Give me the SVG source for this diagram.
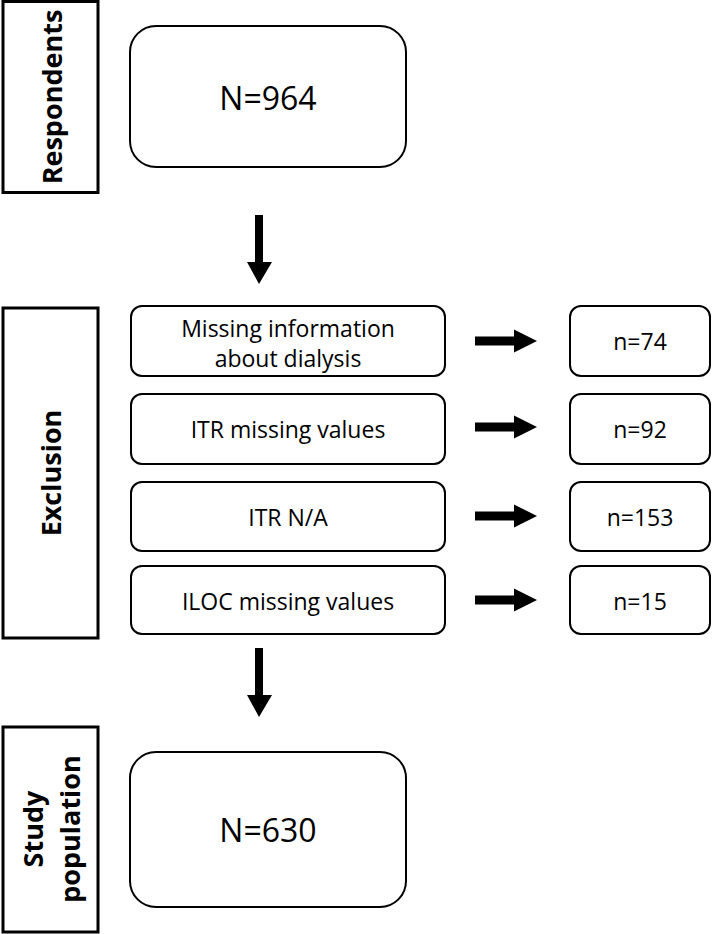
<svg xmlns="http://www.w3.org/2000/svg" width="712" height="934" viewBox="0 0 712 934">
<style>
.lbl{fill:#fff;stroke:#000;stroke-width:3}
.big{fill:#fff;stroke:#000;stroke-width:2}
.box{fill:#fff;stroke:#000;stroke-width:2}
.lt{font-family:"Open Sans","Liberation Sans",sans-serif;font-weight:bold;font-size:27px;fill:#000;text-anchor:middle}
.bt{font-family:"Open Sans","Liberation Sans",sans-serif;font-size:32px;fill:#000;text-anchor:middle}
.t{font-family:"Open Sans","Liberation Sans",sans-serif;font-size:23px;fill:#000;text-anchor:middle}
.arr{fill:#000}
</style>
<rect width="712" height="934" fill="#fff"/>
<g id="respondents-label">
<rect class="lbl" x="3" y="1.5" width="95" height="191"/>
<text class="lt" transform="translate(62,97) rotate(-90)">Respondents</text>
</g>
<g id="n964">
<rect class="big" x="130" y="26" width="276" height="141" rx="26"/>
<text class="bt" x="268" y="110">N=964</text>
</g>
<g id="exclusion-label">
<rect class="lbl" x="3" y="308" width="95" height="330"/>
<text class="lt" transform="translate(61,473) rotate(-90)">Exclusion</text>
</g>
<g id="ex1">
<rect class="box" x="131" y="306" width="314" height="70" rx="11"/>
<text class="t" x="288" y="337">Missing information</text>
<text class="t" x="288" y="367">about dialysis</text>
</g>
<g id="ex2">
<rect class="box" x="131" y="394" width="314" height="70" rx="11"/>
<text class="t" x="288" y="438">ITR missing values</text>
</g>
<g id="ex3">
<rect class="box" x="131" y="482" width="314" height="69" rx="11"/>
<text class="t" x="288" y="526">ITR N/A</text>
</g>
<g id="ex4">
<rect class="box" x="131" y="566" width="314" height="68" rx="11"/>
<text class="t" x="288" y="610">ILOC missing values</text>
</g>
<g id="n74">
<rect class="box" x="570" y="306" width="140" height="70" rx="11"/>
<text class="t" x="640" y="350">n=74</text>
</g>
<g id="n92">
<rect class="box" x="570" y="394" width="140" height="70" rx="11"/>
<text class="t" x="640" y="438">n=92</text>
</g>
<g id="n153">
<rect class="box" x="570" y="482" width="140" height="69" rx="11"/>
<text class="t" x="640" y="526">n=153</text>
</g>
<g id="n15">
<rect class="box" x="570" y="566" width="140" height="68" rx="11"/>
<text class="t" x="640" y="610">n=15</text>
</g>
<g id="study-label">
<rect class="lbl" x="3" y="727" width="95" height="205"/>
<text class="lt" transform="translate(43,829) rotate(-90)">Study</text>
<text class="lt" transform="translate(80,829) rotate(-90)">population</text>
</g>
<g id="n630">
<rect class="big" x="130" y="752" width="276" height="155" rx="26"/>
<text class="bt" x="268" y="842">N=630</text>
</g>
<g id="connectors">
<polygon class="arr" points="255,215 263,215 263,262 272,262 259,284 247,262 255,262"/>
<polygon class="arr" points="255,648 263,648 263,695 272,695 259,717 247,695 255,695"/>
<polygon class="arr" points="475,336.5 514,336.5 514,329.5 537,341 514,352.5 514,345.5 475,345.5"/>
<polygon class="arr" points="475,422.5 514,422.5 514,415.5 537,427 514,438.5 514,431.5 475,431.5"/>
<polygon class="arr" points="475,511.5 514,511.5 514,504.5 537,516 514,527.5 514,520.5 475,520.5"/>
<polygon class="arr" points="475,595.5 514,595.5 514,588.5 537,600 514,611.5 514,604.5 475,604.5"/>
</g>
</svg>
